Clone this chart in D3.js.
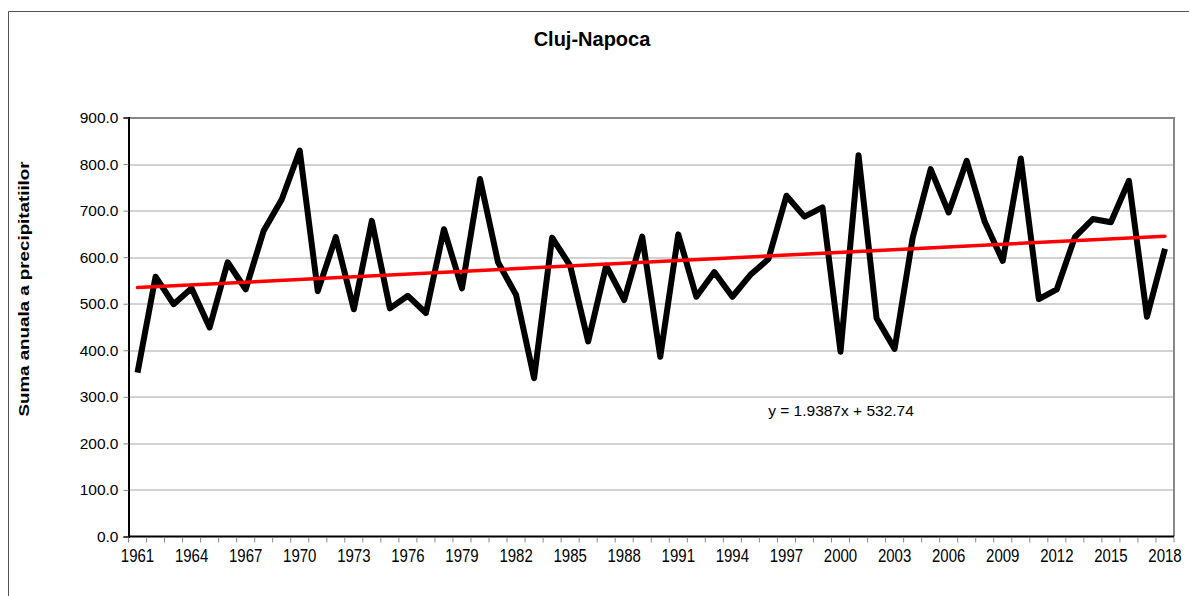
<!DOCTYPE html>
<html>
<head>
<meta charset="utf-8">
<script src="https://cdn.jsdelivr.net/npm/d3@7"></script>
<style>
  body { margin: 0; background: #fff; }
  text { font-family: "Liberation Sans", Arial, sans-serif; }
</style>
</head>
<body>
<div id="chart"></div>
<script>
// Annual precipitation, Cluj-Napoca
const years = d3.range(1961, 2019);
const precip = [
  352, 558, 499, 533, 449, 589, 531, 657, 724, 829,
  527, 643, 488, 678, 490, 517, 480, 660, 533, 768,
  589, 519, 340, 642, 582, 419, 582, 508, 644, 386,
  649, 515, 568, 515, 562, 596, 732, 687, 707, 397,
  819, 469, 403, 641, 789, 696, 807, 676, 592, 812,
  510, 531, 643, 682, 675, 764, 472, 618
];
const yTicks = [0, 100, 200, 300, 400, 500, 600, 700, 800, 900];
const trend = { slope: 1.9387, intercept: 532.74 };

const W = 1189, H = 596;
const margin = { top: 117.5, right: 15, bottom: 59.5, left: 128.5 };
const width = W - margin.left - margin.right;
const height = H - margin.top - margin.bottom;

const root = d3.select("#chart").append("svg")
  .attr("width", W).attr("height", H);

// outer chart border
root.append("path")
  .attr("d", `M8.5,${H} V11.5 H${W}`)
  .attr("fill", "none").attr("stroke", "#555").attr("stroke-width", 1);

const svg = root.append("g")
  .attr("transform", `translate(${margin.left},${margin.top})`);

const x = d3.scaleBand().domain(years).range([0, width]);
const y = d3.scaleLinear().domain([0, 900]).range([height, 0]);

// gridlines
svg.append("g").selectAll("line")
  .data(yTicks.filter(d => d > 0))
  .join("line")
  .attr("x1", 0).attr("x2", width)
  .attr("y1", d => Math.round(y(d)) + 0.5).attr("y2", d => Math.round(y(d)) + 0.5)
  .attr("stroke", "#a6a6a6");

// plot area frame (top/right)
svg.append("path")
  .attr("d", `M0,0.5 H${width} V${height}`)
  .attr("fill", "none").attr("stroke", "#888").attr("stroke-width", 2);

// y axis
const yAxis = svg.append("g")
  .call(d3.axisLeft(y).tickValues(yTicks).tickFormat(d3.format(".1f")).tickSize(5).tickPadding(5));
yAxis.select(".domain").attr("stroke", "#000").attr("stroke-width", 2);
yAxis.selectAll(".tick line").attr("stroke", "#888");
yAxis.selectAll("text").attr("font-size", 15.5).attr("fill", "#000");

// x axis: ticks at category boundaries, labels every 3 years
const xg = svg.append("g").attr("transform", `translate(0,${height})`);
xg.append("line").attr("x1", 0).attr("x2", width).attr("stroke", "#000").attr("stroke-width", 2);
xg.selectAll(".tk")
  .data(years.concat([2019]))
  .join("line")
  .attr("class", "tk")
  .attr("x1", (d, i) => i * x.bandwidth()).attr("x2", (d, i) => i * x.bandwidth())
  .attr("y1", 1).attr("y2", 6)
  .attr("stroke", "#888");
xg.selectAll(".lbl")
  .data(years.filter(d => (d - 1961) % 3 === 0))
  .join("text")
  .attr("class", "lbl")
  .attr("transform", d => `translate(${x(d) + x.bandwidth() / 2},25) scale(1,1.25)`)
  .attr("text-anchor", "middle")
  .attr("font-size", 15)
  .text(d => d);

// data line
const line = d3.line()
  .x((d, i) => x(years[i]) + x.bandwidth() / 2)
  .y(d => y(d));
svg.append("path")
  .datum(precip)
  .attr("d", line)
  .attr("fill", "none")
  .attr("stroke", "#000")
  .attr("stroke-width", 6)
  .attr("stroke-linejoin", "round");

// linear trend
const first = 1, last = years.length;
svg.append("line")
  .attr("x1", x(years[0]) + x.bandwidth() / 2)
  .attr("x2", x(years[years.length - 1]) + x.bandwidth() / 2)
  .attr("y1", y(trend.slope * first + trend.intercept))
  .attr("y2", y(trend.slope * last + trend.intercept))
  .attr("stroke", "#ff0000")
  .attr("stroke-width", 3.5)
  .attr("stroke-linecap", "round");

svg.append("text")
  .attr("x", 841 - margin.left)
  .attr("y", 416 - margin.top)
  .attr("text-anchor", "middle")
  .attr("font-size", 15.5)
  .text("y = 1.9387x + 532.74");

// titles
root.append("text")
  .attr("x", 592).attr("y", 46)
  .attr("text-anchor", "middle")
  .attr("font-size", 20).attr("font-weight", "bold")
  .text("Cluj-Napoca");

root.append("text")
  .attr("transform", "translate(28.5,289) rotate(-90) scale(1.25,1)")
  .attr("text-anchor", "middle")
  .attr("font-size", 15).attr("font-weight", "bold")
  .text("Suma anuala a precipitatiilor");
</script>
</body>
</html>
